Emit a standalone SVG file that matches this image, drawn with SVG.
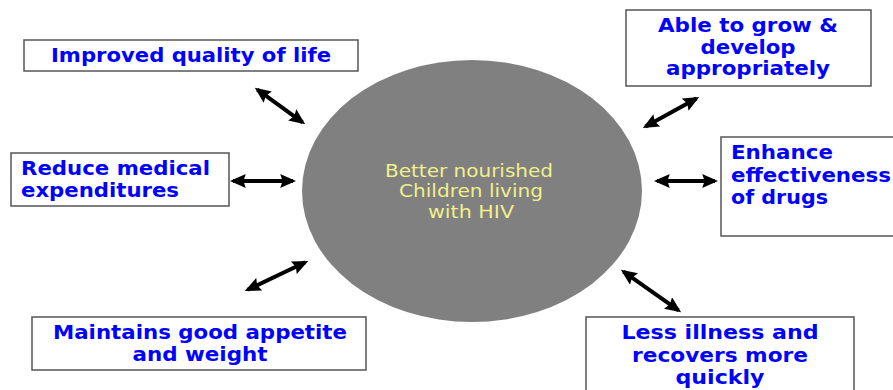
<svg xmlns="http://www.w3.org/2000/svg" width="893" height="390" viewBox="0 0 893 390">
<style>
.box{fill:#fff;stroke:#555;stroke-width:1.5}
.lbl{font-family:"DejaVu Sans",Verdana,sans-serif;font-weight:bold;font-size:20px;fill:#0000ff}
.mid{text-anchor:middle}
.ctr{font-family:"DejaVu Sans",Verdana,sans-serif;font-size:17px;fill:#f0f08c;text-anchor:middle}
.arr{stroke:#000;stroke-width:4;fill:none;marker-start:url(#ah);marker-end:url(#ah)}
</style>
<defs>
<marker id="ah" viewBox="0 0 10 10" refX="8" refY="5" markerWidth="4" markerHeight="3.5" orient="auto-start-reverse" markerUnits="strokeWidth" preserveAspectRatio="none">
<path d="M0,0 L10,5 L0,10 L1.5,5 Z" fill="#000"/>
</marker>
</defs>
<rect width="893" height="390" fill="#fff"/>
<g id="center">
<ellipse cx="472" cy="191" rx="170" ry="131" fill="#808080"/>
<text class="ctr" x="469" y="177" textLength="168" lengthAdjust="spacingAndGlyphs">Better nourished</text>
<text class="ctr" x="471" y="197" textLength="144" lengthAdjust="spacingAndGlyphs">Children living</text>
<text class="ctr" x="471" y="218" textLength="86" lengthAdjust="spacingAndGlyphs">with HIV</text>
</g>
<g id="n1">
<rect class="box" x="24" y="40" width="334" height="31"/>
<text class="lbl mid" x="191" y="62" textLength="280" lengthAdjust="spacingAndGlyphs">Improved quality of life</text>
</g>
<g id="n2">
<rect class="box" x="11" y="153" width="218" height="53"/>
<text class="lbl" x="21" y="175" textLength="189" lengthAdjust="spacingAndGlyphs">Reduce medical</text>
<text class="lbl" x="21" y="197" textLength="158" lengthAdjust="spacingAndGlyphs">expenditures</text>
</g>
<g id="n3">
<rect class="box" x="626" y="10" width="245" height="76"/>
<text class="lbl mid" x="748" y="32" textLength="180" lengthAdjust="spacingAndGlyphs">Able to grow &amp;</text>
<text class="lbl mid" x="748" y="54" textLength="95" lengthAdjust="spacingAndGlyphs">develop</text>
<text class="lbl mid" x="748" y="75" textLength="164" lengthAdjust="spacingAndGlyphs">appropriately</text>
</g>
<g id="n4">
<rect class="box" x="721" y="137" width="180" height="99"/>
<text class="lbl" x="731" y="159" textLength="102" lengthAdjust="spacingAndGlyphs">Enhance</text>
<text class="lbl" x="731" y="182" textLength="160" lengthAdjust="spacingAndGlyphs">effectiveness</text>
<text class="lbl" x="731" y="204" textLength="97" lengthAdjust="spacingAndGlyphs">of drugs</text>
</g>
<g id="n5">
<rect class="box" x="32" y="317" width="334" height="53"/>
<text class="lbl mid" x="200" y="339" textLength="294" lengthAdjust="spacingAndGlyphs">Maintains good appetite</text>
<text class="lbl mid" x="200" y="361" textLength="135" lengthAdjust="spacingAndGlyphs">and weight</text>
</g>
<g id="n6">
<rect class="box" x="586" y="317" width="268" height="80"/>
<text class="lbl mid" x="720" y="339" textLength="197" lengthAdjust="spacingAndGlyphs">Less illness and</text>
<text class="lbl mid" x="720" y="362" textLength="176" lengthAdjust="spacingAndGlyphs">recovers more</text>
<text class="lbl mid" x="720" y="384" textLength="89" lengthAdjust="spacingAndGlyphs">quickly</text>
</g>
<g id="connectors">
<line class="arr" x1="257.4" y1="89.7" x2="302.6" y2="122.3"/>
<line class="arr" x1="233" y1="181" x2="293" y2="181"/>
<line class="arr" x1="247.7" y1="289.7" x2="305.3" y2="262.3"/>
<line class="arr" x1="645.6" y1="126.5" x2="696.4" y2="98.5"/>
<line class="arr" x1="657" y1="181" x2="715" y2="181"/>
<line class="arr" x1="623.5" y1="271.7" x2="678.5" y2="310.3"/>
</g>
</svg>
